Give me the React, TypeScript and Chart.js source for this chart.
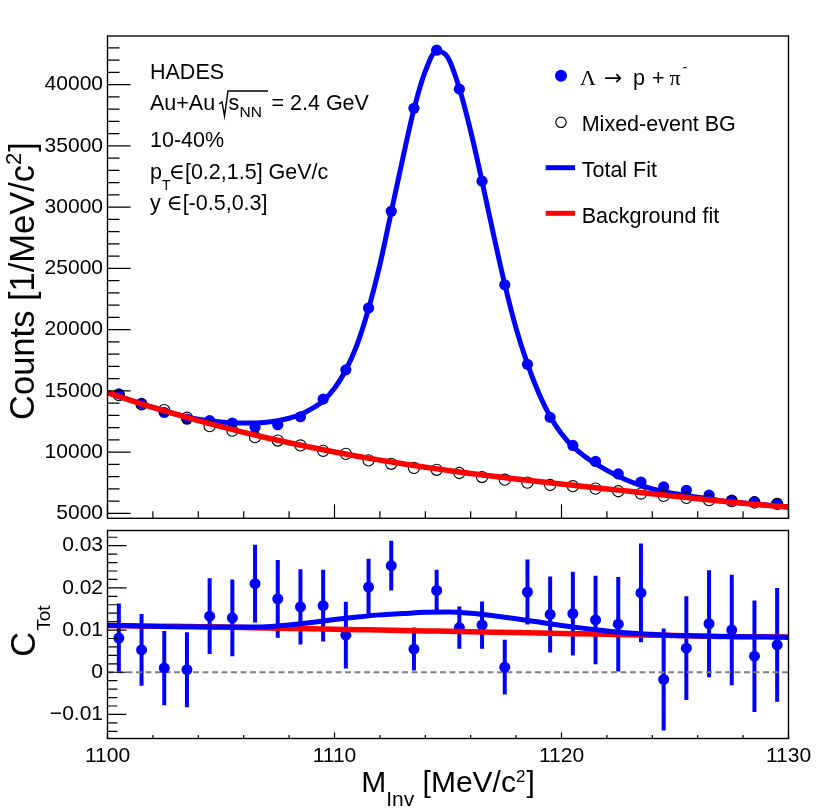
import React, { useEffect, useRef } from "react";
import { Chart, registerables } from "chart.js";

Chart.register(...registerables);

const SANS = '"Liberation Sans", Arial, Helvetica, sans-serif';
const SERIF = '"Liberation Serif", "DejaVu Serif", "Times New Roman", serif';
const ARROWFONT = '"DejaVu Sans", sans-serif';
const BLUE = "rgb(0,0,255)";
const RED = "rgb(255,0,0)";

// ---------- data ----------
const massBins = [
  1100.5, 1101.5, 1102.5, 1103.5, 1104.5, 1105.5, 1106.5, 1107.5, 1108.5, 1109.5,
  1110.5, 1111.5, 1112.5, 1113.5, 1114.5, 1115.5, 1116.5, 1117.5, 1118.5, 1119.5,
  1120.5, 1121.5, 1122.5, 1123.5, 1124.5, 1125.5, 1126.5, 1127.5, 1128.5, 1129.5,
];

// Λ → p + π⁻ candidates (filled blue)
const signalCounts = [
  14750, 13970, 13230, 12680, 12560, 12370, 12020, 12230, 12880, 14320,
  16710, 21760, 29660, 38070, 42810, 39630, 32120, 23660, 17160, 12830,
  10540, 9230, 8210, 7550, 7150, 6880, 6480, 6070, 5950, 5800,
];

// Mixed-event background (open circles)
const mixedEventBG = [
  14650, 13900, 13420, 12800, 12110, 11750, 11210, 10940, 10540, 10100,
  9850, 9320, 9040, 8710, 8550, 8290, 7960, 7740, 7500, 7310,
  7210, 7010, 6800, 6610, 6420, 6260, 6070, 5990, 5880, 5770,
];

// Total fit curve (blue), sampled every 0.5 MeV
const totalFitMass = [
  1100, 1100.5, 1101, 1101.5, 1102, 1102.5, 1103, 1103.5, 1104, 1104.5,
  1105, 1105.5, 1106, 1106.5, 1107, 1107.5, 1108, 1108.5, 1109, 1109.5,
  1110, 1110.5, 1111, 1111.5, 1112, 1112.5, 1113, 1113.5, 1114, 1114.5,
  1115, 1115.5, 1116, 1116.5, 1117, 1117.5, 1118, 1118.5, 1119, 1119.5,
  1120, 1120.5, 1121, 1121.5, 1122, 1122.5, 1123, 1123.5, 1124, 1124.5,
  1125, 1125.5, 1126, 1126.5, 1127, 1127.5, 1128, 1128.5, 1129, 1129.5,
  1130,
];
const totalFit = [
  14850, 14540, 14230, 13930, 13640, 13360, 13100, 12870, 12690, 12560,
  12460, 12400, 12370, 12380, 12440, 12560, 12760, 13060, 13540, 14180,
  15200, 16700, 18800, 21700, 25300, 29600, 33900, 38000, 41100, 42750,
  42200, 39700, 36200, 32100, 27800, 23700, 20100, 17200, 14800, 12900,
  11500, 10450, 9680, 9050, 8500, 8030, 7620, 7270, 6990, 6770,
  6600, 6450, 6310, 6170, 6030, 5910, 5830, 5750, 5670, 5590,
  5515,
];

// Background fit curve (red)
const bgFitMass = [
  1100, 1101, 1102, 1103, 1104, 1105, 1106, 1107, 1108, 1109, 1110,
  1111, 1112, 1113, 1114, 1115, 1116, 1117, 1118, 1119, 1120,
  1121, 1122, 1123, 1124, 1125, 1126, 1127, 1128, 1129, 1130,
];
const bgFit = [
  14850, 14230, 13640, 13090, 12570, 12080, 11610, 11170, 10760, 10370, 10000,
  9660, 9340, 9040, 8760, 8500, 8250, 8020, 7800, 7590, 7390,
  7190, 6990, 6790, 6590, 6390, 6190, 6000, 5820, 5660, 5510,
];

// Lower panel: C_Tot with errors
const cTot = [
  0.0081, 0.0053, 0.0010, 0.0006, 0.0133, 0.0129, 0.0210, 0.0174, 0.0155, 0.0158,
  0.0088, 0.0202, 0.0253, 0.0055, 0.0194, 0.0106, 0.0112, 0.0012, 0.0190, 0.0137,
  0.0139, 0.0124, 0.0114, 0.0188, -0.0017, 0.0057, 0.0115, 0.0100, 0.0038, 0.0065,
];
const cTotErr = [
  0.0082, 0.0085, 0.0088, 0.0089, 0.0090, 0.0091, 0.0092, 0.0092, 0.0089, 0.0085,
  0.0079, 0.0067, 0.0059, 0.0051, 0.0049, 0.0050, 0.0056, 0.0065, 0.0077, 0.0090,
  0.0099, 0.0105, 0.0112, 0.0117, 0.0121, 0.0123, 0.0127, 0.0131, 0.0132, 0.0135,
];
const cFitMass = bgFitMass;
const cTotTotalFit = [
  0.0111, 0.0110, 0.0109, 0.0108, 0.0108, 0.0107, 0.0107, 0.0108, 0.0112, 0.0118, 0.0125,
  0.0131, 0.0136, 0.0139, 0.0142, 0.0143, 0.0140, 0.0134, 0.0127, 0.0119, 0.0111,
  0.0104, 0.0098, 0.0093, 0.0090, 0.0087, 0.0086, 0.0085, 0.0084, 0.0084, 0.0083,
];
const cTotBgFit = [
  0.0111, 0.0110, 0.0109, 0.0109, 0.0108, 0.0107, 0.0106, 0.0105, 0.0104, 0.0103, 0.0102,
  0.0101, 0.0100, 0.0099, 0.0098, 0.0097, 0.0096, 0.0095, 0.0094, 0.0093, 0.0092,
  0.0091, 0.0090, 0.0089, 0.0088, 0.0087, 0.0086, 0.0085, 0.0084, 0.0084, 0.0083,
];
const zeroLineMass = [1100, 1130];
const zeroLine = [0, 0];

// ---------- axes ----------
const xRange = [1100, 1130];
const xMajorTicks = [1100, 1110, 1120, 1130];
const xTickLabels = ["1100", "1110", "1120", "1130"];
const xMinorStep = 2;

const topYRange = [4590, 43970];
const topYTicks = [5000, 10000, 15000, 20000, 25000, 30000, 35000, 40000];
const topYTickLabels = ["5000", "10000", "15000", "20000", "25000", "30000", "35000", "40000"];
const topYMinorStep = 1000;

const botYRange = [-0.0157, 0.0336];
const botYTicks = [-0.01, 0, 0.01, 0.02, 0.03];
const botYTickLabels = ["\u22120.01", "0", "0.01", "0.02", "0.03"];
const botYMinorStep = 0.002;

// ---------- text ----------
type Part = { t: string; size: number; dy?: number; family?: string; dx?: number };

function partsWidth(ctx: CanvasRenderingContext2D, parts: Part[]) {
  let w = 0;
  for (const p of parts) {
    ctx.font = `${p.size}px ${p.family || SANS}`;
    w += ctx.measureText(p.t).width + (p.dx || 0);
  }
  return w;
}
function drawParts(ctx: CanvasRenderingContext2D, parts: Part[], x: number, y: number) {
  let cx = x;
  ctx.textAlign = "left";
  ctx.textBaseline = "alphabetic";
  for (const p of parts) {
    ctx.font = `${p.size}px ${p.family || SANS}`;
    cx += p.dx || 0;
    ctx.fillText(p.t, cx, y + (p.dy || 0));
    cx += ctx.measureText(p.t).width;
  }
  return cx;
}

function minorTicks(range: number[], step: number) {
  const out: number[] = [];
  const start = Math.ceil(range[0] / step - 1e-9);
  const end = Math.floor(range[1] / step + 1e-9);
  for (let k = start; k <= end; k++) out.push(k * step);
  return out;
}

function drawFrame(
  chart: any,
  o: { xMaj: number; xMin: number; yMaj: number; yMin: number; yMinorStep: number; yRange: number[]; yMajor: number[] }
) {
  const { ctx, chartArea: a } = chart;
  const xs = chart.scales.x;
  const ys = chart.scales.y;
  ctx.save();
  ctx.strokeStyle = "#000";
  ctx.lineWidth = 1.2;
  ctx.beginPath();
  const xMinor = minorTicks(xRange, xMinorStep);
  for (const v of xMinor) {
    const isMajor = xMajorTicks.some((m) => Math.abs(m - v) < 1e-6);
    const p = xs.getPixelForValue(v);
    ctx.moveTo(p, a.bottom);
    ctx.lineTo(p, a.bottom - (isMajor ? o.xMaj : o.xMin));
  }
  const yMinor = minorTicks(o.yRange, o.yMinorStep);
  for (const v of yMinor) {
    const isMajor = o.yMajor.some((m) => Math.abs(m - v) < o.yMinorStep * 1e-3);
    const p = ys.getPixelForValue(v);
    ctx.moveTo(a.left, p);
    ctx.lineTo(a.left + (isMajor ? o.yMaj : o.yMin), p);
  }
  ctx.stroke();
  ctx.lineWidth = 1.4;
  ctx.strokeRect(a.left, a.top, a.right - a.left, a.bottom - a.top);
  ctx.restore();
}

const topPlugin = {
  id: "topDecor",
  afterDraw(chart: any) {
    const ctx: CanvasRenderingContext2D = chart.ctx;
    drawFrame(chart, {
      xMaj: 14, xMin: 7, yMaj: 23, yMin: 12,
      yMinorStep: topYMinorStep, yRange: topYRange, yMajor: topYTicks,
    });
    ctx.save();
    ctx.fillStyle = "#000";
    // annotations
    const F = 21.5;
    drawParts(ctx, [{ t: "HADES", size: F }], 150, 78.5);
    drawParts(ctx, [{ t: "Au+Au", size: F }], 150, 110);
    // sqrt sign
    ctx.strokeStyle = "#000";
    ctx.lineWidth = 1.4;
    ctx.beginPath();
    ctx.moveTo(219, 104);
    ctx.lineTo(222, 102);
    ctx.lineTo(224.5, 116);
    ctx.lineTo(228, 91);
    ctx.lineTo(268, 91);
    ctx.stroke();
    drawParts(ctx, [{ t: "s", size: F }], 228.5, 110);
    drawParts(ctx, [{ t: "NN", size: 15.5 }], 239.5, 116.5);
    drawParts(ctx, [{ t: "= 2.4 GeV", size: F }], 271.5, 110);
    drawParts(ctx, [{ t: "10-40%", size: F }], 150, 146.5);
    drawParts(ctx, [{ t: "p", size: F }], 150, 178.5);
    drawParts(ctx, [{ t: "T", size: 14 }], 162, 189.5);
    drawParts(ctx, [{ t: "\u2208", size: F, family: SERIF }, { t: "[0.2,1.5] GeV/c", size: F }], 169, 178.5);
    drawParts(ctx, [{ t: "y ", size: F }, { t: "\u2208", size: F, family: SERIF }, { t: "[-0.5,0.3]", size: F }], 150, 210);

    // legend
    ctx.fillStyle = BLUE;
    ctx.beginPath();
    ctx.arc(561, 75.7, 6, 0, Math.PI * 2);
    ctx.fill();
    ctx.fillStyle = "#000";
    drawParts(ctx, [{ t: "\u039B", size: 22, family: SERIF }], 580, 85);
    drawParts(ctx, [{ t: "\u2192", size: 22, family: ARROWFONT }], 604, 85);
    drawParts(ctx, [{ t: "p", size: F }], 633, 85);
    drawParts(ctx, [{ t: "+", size: F }], 652, 85);
    drawParts(ctx, [{ t: "\u03C0", size: 22, family: SERIF }], 669.5, 85);
    drawParts(ctx, [{ t: "-", size: 14 }], 682.5, 72);

    ctx.strokeStyle = "#000";
    ctx.lineWidth = 1.2;
    ctx.beginPath();
    ctx.arc(561, 122.3, 5.2, 0, Math.PI * 2);
    ctx.stroke();
    drawParts(ctx, [{ t: "Mixed-event BG", size: F }], 581.7, 131);

    ctx.lineWidth = 5;
    ctx.strokeStyle = BLUE;
    ctx.beginPath();
    ctx.moveTo(545.7, 167.7);
    ctx.lineTo(575, 167.7);
    ctx.stroke();
    drawParts(ctx, [{ t: "Total Fit", size: F }], 581.7, 176.7);

    ctx.strokeStyle = RED;
    ctx.beginPath();
    ctx.moveTo(545.7, 213.3);
    ctx.lineTo(575, 213.3);
    ctx.stroke();
    drawParts(ctx, [{ t: "Background fit", size: F }], 581.7, 223);

    // y title
    const yParts: Part[] = [
      { t: "Counts [1/MeV/c", size: 34.5 },
      { t: "2", size: 22, dy: -13 },
      { t: "]", size: 34.5, dx: 1 },
    ];
    const w = partsWidth(ctx, yParts);
    ctx.translate(33.5, 281);
    ctx.rotate(-Math.PI / 2);
    ctx.fillStyle = "#000";
    drawParts(ctx, yParts, -w / 2, 0);
    ctx.restore();
  },
};

const botPlugin = {
  id: "botDecor",
  beforeDatasetsDraw(chart: any) {
    const { ctx, chartArea: a } = chart;
    const xs = chart.scales.x;
    const ys = chart.scales.y;
    ctx.save();
    ctx.beginPath();
    ctx.rect(a.left, a.top, a.right - a.left, a.bottom - a.top);
    ctx.clip();
    ctx.strokeStyle = BLUE;
    ctx.lineWidth = 4;
    ctx.lineCap = "butt";
    ctx.beginPath();
    massBins.forEach((m, i) => {
      const px = xs.getPixelForValue(m);
      ctx.moveTo(px, ys.getPixelForValue(cTot[i] - cTotErr[i]));
      ctx.lineTo(px, ys.getPixelForValue(cTot[i] + cTotErr[i]));
    });
    ctx.stroke();
    ctx.restore();
  },
  afterDraw(chart: any) {
    const ctx: CanvasRenderingContext2D = chart.ctx;
    drawFrame(chart, {
      xMaj: 6, xMin: 3.5, yMaj: 19, yMin: 10,
      yMinorStep: botYMinorStep, yRange: botYRange, yMajor: botYTicks,
    });
    ctx.save();
    ctx.fillStyle = "#000";
    // x title
    const xParts: Part[] = [
      { t: "M", size: 30 },
      { t: "Inv", size: 21, dy: 14 },
      { t: " [MeV/c", size: 30 },
      { t: "2", size: 17, dy: -10 },
      { t: "]", size: 30, dx: 1 },
    ];
    const xw = partsWidth(ctx, xParts);
    drawParts(ctx, xParts, 448 - xw / 2, 792 - 525);
    // y title
    const yParts: Part[] = [
      { t: "C", size: 34.5 },
      { t: "Tot", size: 19, dy: 15, dx: 1 },
    ];
    const yw = partsWidth(ctx, yParts);
    ctx.translate(35, 631 - 525);
    ctx.rotate(-Math.PI / 2);
    drawParts(ctx, yParts, -yw / 2, 0);
    ctx.restore();
  },
};

function pts(xs: number[], ys: number[]) {
  return xs.map((x, i) => ({ x, y: ys[i] }));
}

function baseScales(yRange: number[], yTicks: number[], yLabels: string[], xDisplay: boolean) {
  return {
    x: {
      type: "linear" as const,
      min: xRange[0],
      max: xRange[1],
      display: xDisplay,
      grid: { display: false, drawTicks: false, tickLength: 0 },
      border: { display: false },
      afterBuildTicks: (axis: any) => {
        axis.ticks = xMajorTicks.map((v) => ({ value: v }));
      },
      afterFit: (axis: any) => {
        axis.height = xDisplay ? 71.5 : 0;
        axis.paddingLeft = 0;
        axis.paddingRight = 0;
      },
      ticks: {
        autoSkip: false,
        maxRotation: 0,
        padding: 5,
        color: "#000",
        font: { family: SANS, size: 21 },
        callback: (_v: any, i: number) => xTickLabels[i],
      },
    },
    y: {
      type: "linear" as const,
      min: yRange[0],
      max: yRange[1],
      grid: { display: false, drawTicks: false, tickLength: 0 },
      border: { display: false },
      afterBuildTicks: (axis: any) => {
        axis.ticks = yTicks.map((v) => ({ value: v }));
      },
      afterFit: (axis: any) => {
        axis.width = 107.5;
        axis.paddingTop = 0;
        axis.paddingBottom = 0;
      },
      ticks: {
        autoSkip: false,
        padding: 4.5,
        color: "#000",
        font: { family: SANS, size: 21 },
        callback: (_v: any, i: number) => yLabels[i],
      },
    },
  };
}

export default function App() {
  const topRef = useRef<HTMLCanvasElement>(null);
  const botRef = useRef<HTMLCanvasElement>(null);

  useEffect(() => {
    const common = {
      responsive: false,
      animation: false as const,
      devicePixelRatio: 1,
      events: [] as any[],
      plugins: { legend: { display: false }, tooltip: { enabled: false }, title: { display: false } },
    };

    const top = new Chart(topRef.current as HTMLCanvasElement, {
      type: "scatter",
      data: {
        datasets: [
          {
            label: "Background fit",
            data: pts(bgFitMass, bgFit),
            showLine: true,
            borderColor: RED,
            borderWidth: 5.5,
            pointRadius: 0,
            cubicInterpolationMode: "monotone",
          },
          {
            label: "Mixed-event BG",
            data: pts(massBins, mixedEventBG),
            pointRadius: 5.6,
            pointBackgroundColor: "rgba(0,0,0,0)",
            pointBorderColor: "#000",
            pointBorderWidth: 1.1,
          },
          {
            label: "Total Fit",
            data: pts(totalFitMass, totalFit),
            showLine: true,
            borderColor: BLUE,
            borderWidth: 5,
            pointRadius: 0,
            cubicInterpolationMode: "monotone",
          },
          {
            label: "\u039B \u2192 p + \u03C0-",
            data: pts(massBins, signalCounts),
            pointRadius: 5.6,
            pointBackgroundColor: BLUE,
            pointBorderWidth: 0,
          },
        ],
      } as any,
      options: {
        ...common,
        layout: { padding: { left: 0, right: 41.5, top: 36, bottom: 3.5 } },
        scales: baseScales(topYRange, topYTicks, topYTickLabels, false) as any,
      } as any,
      plugins: [topPlugin],
    });

    const bot = new Chart(botRef.current as HTMLCanvasElement, {
      type: "scatter",
      data: {
        datasets: [
          {
            label: "total",
            data: pts(cFitMass, cTotTotalFit),
            showLine: true,
            borderColor: BLUE,
            borderWidth: 5,
            pointRadius: 0,
            cubicInterpolationMode: "monotone",
          },
          {
            label: "bg",
            data: pts(cFitMass, cTotBgFit),
            showLine: true,
            borderColor: RED,
            borderWidth: 5.5,
            pointRadius: 0,
            cubicInterpolationMode: "monotone",
          },
          {
            label: "C_Tot",
            data: pts(massBins, cTot),
            pointRadius: 5.5,
            pointBackgroundColor: BLUE,
            pointBorderWidth: 0,
          },
          {
            label: "zero",
            data: pts(zeroLineMass, zeroLine),
            showLine: true,
            borderColor: "rgb(128,128,128)",
            borderWidth: 1.8,
            borderDash: [6, 3.5],
            pointRadius: 0,
          },
        ],
      } as any,
      options: {
        ...common,
        layout: { padding: { left: 0, right: 41.5, top: 4, bottom: 0 } },
        scales: baseScales(botYRange, botYTicks, botYTickLabels, true) as any,
      } as any,
      plugins: [botPlugin],
    });

    return () => {
      top.destroy();
      bot.destroy();
    };
  }, []);

  return (
    <div style={{ position: "absolute", left: 0, top: 0, width: 830, height: 810, background: "#fff", overflow: "hidden" }}>
      <canvas
        ref={topRef}
        width={830}
        height={525}
        style={{ position: "absolute", left: 0, top: 0, width: 830, height: 525, display: "block" }}
      />
      <canvas
        ref={botRef}
        width={830}
        height={285}
        style={{ position: "absolute", left: 0, top: 525, width: 830, height: 285, display: "block" }}
      />
    </div>
  );
}
